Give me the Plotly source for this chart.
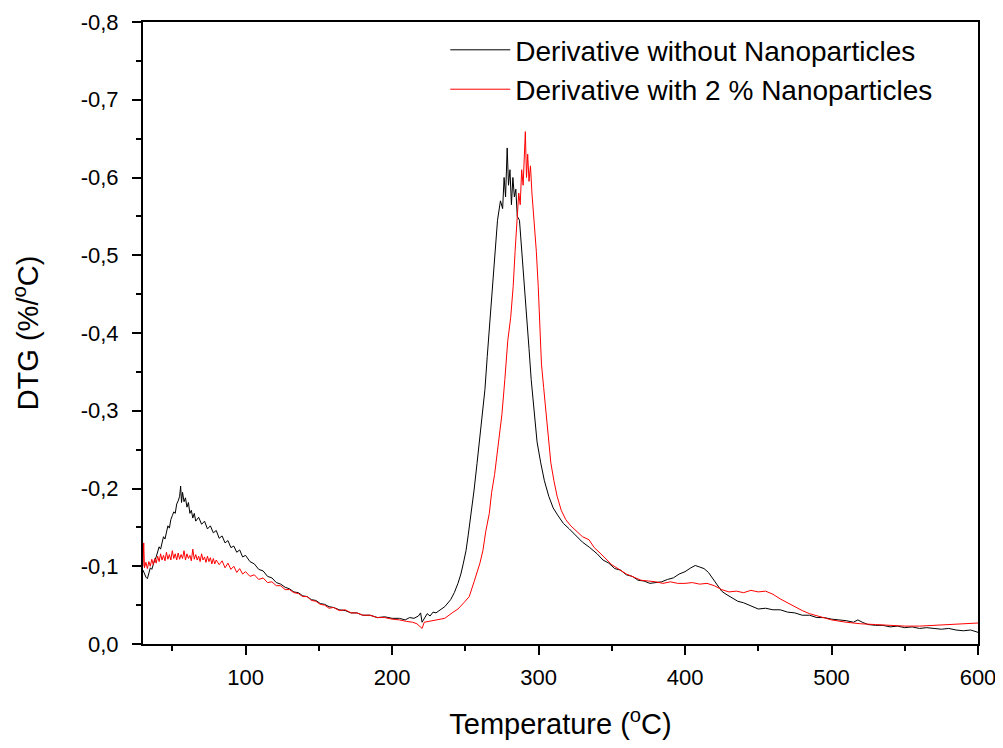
import plotly.graph_objects as go

# curva sin nanoparticulas (negra)
temp_sin = [30, 31, 32, 33, 34, 35, 36, 37, 38, 39, 40, 41, 42, 43, 44, 45, 46, 47, 48, 49,
            50, 51, 52, 53, 54, 55, 55.7, 56.3, 57, 58, 59, 60, 61, 62, 63, 64, 65, 66, 68, 70,
            72, 74, 76, 78, 80, 82, 84, 86, 88, 90, 92, 94, 96, 98, 100, 103, 106, 109, 112, 115,
            118, 121, 124, 127, 130, 133, 136, 139, 142, 145, 148, 151, 154, 157, 160, 164, 168, 172, 176, 180,
            185, 190, 195, 200, 205, 209, 212, 215, 218, 219.5, 220.5, 222, 224, 226, 228, 230, 232, 236, 240, 242.5,
            245, 247, 248.7, 250.5, 252, 254, 256, 258, 260, 261.6, 263.4, 265, 266.5, 268.4, 270, 272, 274, 275.5, 276.5, 277.5,
            278.6, 279.5, 280.5, 281.5, 282.5, 283.5, 284.5, 285.5, 287, 289, 290.5, 292, 293.5, 295, 297, 299, 301.5, 304, 307, 310,
            313, 317, 321, 325, 330, 335, 340, 344, 348, 352, 356, 360, 364, 368, 372, 376, 380, 384, 388, 392,
            396, 400, 404, 407, 410, 413, 416, 419, 422, 425, 428, 432, 436, 440, 445, 450, 455, 460, 465, 470,
            475, 480, 485, 490, 495, 500, 505, 510, 515, 518, 521, 525, 530, 535, 540, 545, 550, 555, 560, 565,
            570, 575, 580, 585, 590, 595, 600]
dtg_sin = [-0.095, -0.090, -0.086, -0.084, -0.092, -0.098, -0.096, -0.104, -0.108, -0.112, -0.118, -0.125, -0.122, -0.132, -0.138, -0.135, -0.146, -0.152, -0.149, -0.160,
           -0.165, -0.170, -0.168, -0.180, -0.184, -0.190, -0.203, -0.182, -0.195, -0.183, -0.188, -0.176, -0.182, -0.168, -0.172, -0.162, -0.168, -0.158, -0.163, -0.154,
           -0.158, -0.148, -0.152, -0.143, -0.146, -0.136, -0.139, -0.130, -0.133, -0.124, -0.126, -0.118, -0.121, -0.112, -0.114, -0.106, -0.103, -0.096, -0.094, -0.087,
           -0.085, -0.079, -0.077, -0.073, -0.071, -0.067, -0.066, -0.062, -0.061, -0.057, -0.056, -0.052, -0.051, -0.048, -0.047, -0.044, -0.043, -0.040, -0.040, -0.037,
           -0.037, -0.034, -0.035, -0.033, -0.033, -0.031, -0.034, -0.033, -0.036, -0.040, -0.028, -0.033, -0.039, -0.036, -0.041, -0.040, -0.043, -0.048, -0.057, -0.066,
           -0.078, -0.090, -0.104, -0.120, -0.140, -0.168, -0.198, -0.232, -0.265, -0.297, -0.327, -0.370, -0.410, -0.460, -0.500, -0.545, -0.570, -0.560, -0.600, -0.575,
           -0.638, -0.590, -0.610, -0.565, -0.600, -0.575, -0.585, -0.550, -0.545, -0.490, -0.450, -0.420, -0.380, -0.340, -0.297, -0.260, -0.233, -0.210, -0.190, -0.175,
           -0.166, -0.155, -0.148, -0.140, -0.131, -0.124, -0.116, -0.108, -0.104, -0.097, -0.095, -0.089, -0.087, -0.082, -0.081, -0.078, -0.079, -0.080, -0.083, -0.085,
           -0.090, -0.093, -0.098, -0.101, -0.099, -0.097, -0.092, -0.084, -0.075, -0.068, -0.064, -0.059, -0.055, -0.053, -0.049, -0.045, -0.046, -0.044, -0.044, -0.041,
           -0.040, -0.037, -0.037, -0.034, -0.034, -0.032, -0.031, -0.030, -0.028, -0.031, -0.028, -0.025, -0.024, -0.024, -0.022, -0.023, -0.021, -0.022, -0.020, -0.021,
           -0.020, -0.019, -0.020, -0.018, -0.017, -0.018, -0.015]

# curva con 2 % nanoparticulas (roja)
temp_con = [30, 30.5, 31, 32, 33, 34, 35, 36, 37, 38, 39, 40, 41, 42, 43, 44, 45, 46, 47, 48,
            49, 50, 51, 52, 53, 54, 55, 56, 57, 58, 59, 60, 61, 62, 63, 64, 65, 66, 67, 68,
            69, 70, 71, 72, 73, 74, 75, 76, 77, 78, 79, 80, 82, 84, 86, 88, 90, 92, 94, 96,
            98, 100, 103, 106, 109, 112, 115, 118, 121, 124, 127, 130, 133, 136, 139, 142, 145, 148, 151, 154,
            157, 160, 164, 168, 172, 176, 180, 185, 190, 195, 200, 205, 210, 214, 217, 219, 220.5, 222, 225, 228,
            232, 236, 241, 245, 249, 252.7, 256, 258, 260, 262, 264, 266.4, 268, 270, 272.5, 275, 277, 279, 281, 282.7,
            284, 285.5, 286.5, 287.5, 288.5, 289.5, 290.2, 291, 291.8, 292.6, 293.5, 294.5, 295.5, 297, 298.5, 299.8, 301, 302, 303.5, 305,
            306.5, 308.4, 310.5, 312.7, 315.5, 318.6, 322, 326, 330, 334.5, 338, 342, 346, 350, 355, 360, 365, 370, 375, 380,
            385, 390, 395, 400, 405, 410, 415, 420, 425, 430, 435, 440, 445, 450, 455, 460, 465, 470, 475, 480,
            485, 490, 495, 500, 510, 520, 530, 540, 550, 560, 570, 580, 590, 600]
dtg_con = [-0.100, -0.130, -0.098, -0.105, -0.097, -0.106, -0.100, -0.109, -0.102, -0.110, -0.104, -0.113, -0.106, -0.116, -0.108, -0.114, -0.107, -0.118, -0.109, -0.115,
           -0.108, -0.120, -0.110, -0.116, -0.108, -0.117, -0.109, -0.115, -0.110, -0.120, -0.108, -0.116, -0.110, -0.114, -0.107, -0.122, -0.109, -0.115, -0.108, -0.113,
           -0.106, -0.116, -0.108, -0.112, -0.105, -0.113, -0.106, -0.111, -0.103, -0.110, -0.103, -0.108, -0.102, -0.107, -0.098, -0.104, -0.096, -0.100, -0.092, -0.097,
           -0.090, -0.093, -0.087, -0.089, -0.083, -0.085, -0.079, -0.080, -0.075, -0.075, -0.070, -0.070, -0.066, -0.065, -0.061, -0.061, -0.056, -0.055, -0.051, -0.050,
           -0.046, -0.047, -0.043, -0.044, -0.040, -0.040, -0.037, -0.037, -0.034, -0.034, -0.032, -0.031, -0.029, -0.028, -0.026, -0.022, -0.020, -0.028, -0.029, -0.030,
           -0.032, -0.033, -0.040, -0.045, -0.053, -0.061, -0.080, -0.092, -0.104, -0.120, -0.145, -0.168, -0.195, -0.218, -0.254, -0.295, -0.340, -0.390, -0.420, -0.460,
           -0.505, -0.545, -0.580, -0.565, -0.610, -0.590, -0.625, -0.659, -0.600, -0.630, -0.595, -0.615, -0.580, -0.545, -0.505, -0.460, -0.400, -0.360, -0.330, -0.300,
           -0.265, -0.233, -0.210, -0.190, -0.172, -0.160, -0.152, -0.145, -0.138, -0.134, -0.124, -0.117, -0.110, -0.102, -0.096, -0.090, -0.086, -0.082, -0.081, -0.080,
           -0.078, -0.080, -0.078, -0.078, -0.079, -0.077, -0.078, -0.075, -0.070, -0.067, -0.068, -0.066, -0.069, -0.067, -0.068, -0.064, -0.058, -0.053, -0.047, -0.043,
           -0.039, -0.036, -0.033, -0.031, -0.028, -0.026, -0.025, -0.024, -0.023, -0.023, -0.024, -0.025, -0.026, -0.027]

x_ticks = [100, 200, 300, 400, 500, 600]
y_ticks = [0.0, -0.1, -0.2, -0.3, -0.4, -0.5, -0.6, -0.7, -0.8]
y_tick_text = ["0,0", "-0,1", "-0,2", "-0,3", "-0,4", "-0,5", "-0,6", "-0,7", "-0,8"]

FUENTE = "Liberation Sans, Arial, sans-serif"

fig = go.Figure()
fig.add_trace(go.Scatter(x=temp_sin, y=dtg_sin, mode="lines", name="Derivative without Nanoparticles",
                         line=dict(color="black", width=1)))
fig.add_trace(go.Scatter(x=temp_con, y=dtg_con, mode="lines", name="Derivative with 2 % Nanoparticles",
                         line=dict(color="red", width=1)))

eje = dict(showline=True, linecolor="black", linewidth=2, mirror=True, showgrid=False, zeroline=False,
           automargin=False, ticks="outside", ticklen=9, tickwidth=2, tickcolor="black",
           tickfont=dict(family=FUENTE, size=22, color="black"))

fig.update_xaxes(**eje, range=[30, 600], tickvals=x_ticks, ticklabelstandoff=4,
                 minor=dict(ticks="outside", ticklen=5, tickwidth=2, tickcolor="black", dtick=50, tick0=0),
                 title=dict(text="Temperature (<sup>o</sup>C)", font=dict(family=FUENTE, size=29, color="black"), standoff=24))
fig.update_yaxes(**eje, range=[0, -0.8], tickvals=y_ticks, ticklabelstandoff=9, ticktext=y_tick_text,
                 minor=dict(ticks="outside", ticklen=5, tickwidth=2, tickcolor="black", dtick=0.05, tick0=0),
                 title=dict(text="DTG (%/<sup>o</sup>C)", font=dict(family=FUENTE, size=29, color="black"), standoff=38))

# la pagina deja 8 px de margen en el body: la figura se ajusta a eso
fig.update_layout(
    width=995, height=740,
    margin=dict(l=135, r=25, t=14, b=104),
    paper_bgcolor="white", plot_bgcolor="white",
    font=dict(family=FUENTE, color="black"),
    showlegend=True,
    legend=dict(x=0.362, y=0.995, xanchor="left", yanchor="top", bgcolor="rgba(0,0,0,0)",
                font=dict(family=FUENTE, size=28, color="black"), itemwidth=60, tracegroupgap=0),
)

fig.write_html("out.html")
